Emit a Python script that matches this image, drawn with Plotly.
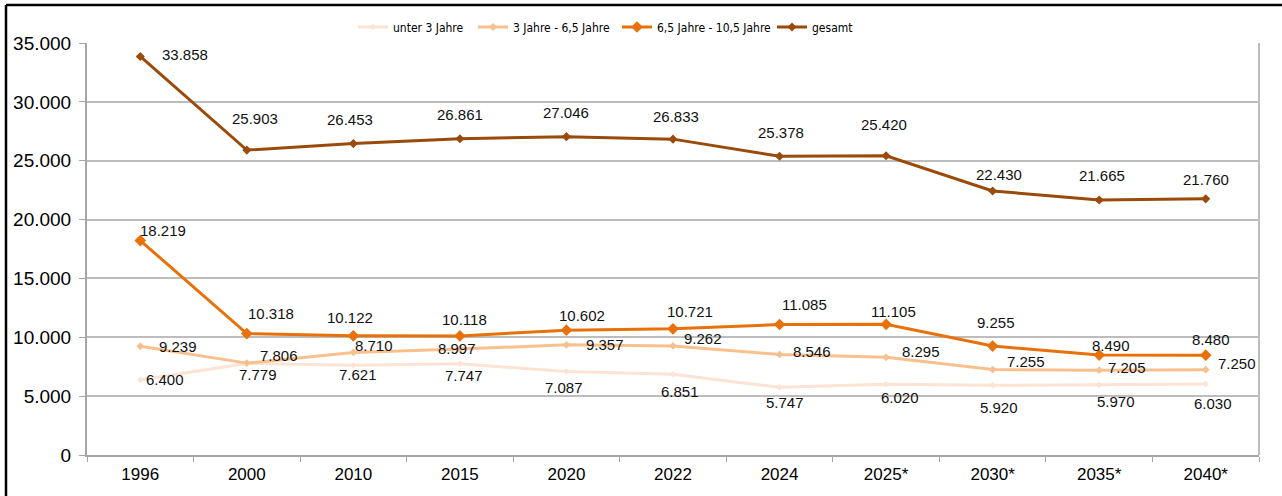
import plotly.graph_objects as go

# Kategorien (Jahre) und Werte je Altersgruppe
jahre = ['1996', '2000', '2010', '2015', '2020', '2022', '2024', '2025*', '2030*', '2035*', '2040*']
unter_3 = [6400, 7779, 7621, 7747, 7087, 6851, 5747, 6020, 5920, 5970, 6030]
j3_bis_65 = [9239, 7806, 8710, 8997, 9357, 9262, 8546, 8295, 7255, 7205, 7250]
j65_bis_105 = [18219, 10318, 10122, 10118, 10602, 10721, 11085, 11105, 9255, 8490, 8480]
gesamt = [33858, 25903, 26453, 26861, 27046, 26833, 25378, 25420, 22430, 21665, 21760]

# Label-Versatz in Pixel (dx, dy) je Punkt
off_unter_3 = [(25, 0), (11, -11), (5, -9), (4, -12), (-2, -16), (7, -17), (5, -15), (14, -13), (6, -22), (17, -17), (7, -19)]
off_j3 = [(38, 0), (32, 8), (21, 7), (-3, 1), (39, 0), (30, 7), (32, 3), (35, 6), (33, 8), (28, 3), (31, 6)]
off_j65 = [(23, 10), (24, 20), (-3, 18), (5, 16), (16, 15), (17, 17), (25, 20), (7, 13), (3, 24), (12, 10), (5, 16)]
off_ges = [(45, 2), (8, 32), (-3, 24), (0, 24), (0, 24), (3, 23), (1, 24), (-2, 31), (6, 16), (3, 24), (0, 19)]

serien = [
    ('unter 3 Jahre', unter_3, '#FDE3D3', 5, off_unter_3, 'legend', 360),
    ('3 Jahre - 6,5 Jahre', j3_bis_65, '#F9C08F', 6, off_j3, 'legend2', 480),
    ('6,5 Jahre - 10,5 Jahre', j65_bis_105, '#E8710A', 9, off_j65, 'legend3', 624),
    ('gesamt', gesamt, '#9A4A0A', 7, off_ges, 'legend4', 779),
]

def fmt(v):
    return f"{v:,}".replace(',', '.')

leg_font = dict(family='Liberation Sans Narrow, DejaVu Sans Condensed, Arial', size=12, color='#000000')
def leg(xpx):
    return dict(x=(xpx - 7 - 87) / 1172, y=(455 - 27) / 412, xanchor='left', yanchor='middle',
                orientation='h', font=leg_font, bgcolor='rgba(0,0,0,0)', itemwidth=30)

fig = go.Figure()
annotations = []
legends = {}
for name, werte, farbe, msize, offs, lname, lx in serien:
    fig.add_trace(go.Scatter(x=jahre, y=werte, name=name, mode='lines+markers',
                             line=dict(color=farbe, width=3),
                             marker=dict(symbol='diamond', size=msize, color=farbe),
                             legend=lname, showlegend=True))
    legends[lname] = leg(lx)
    for i, (w, (dx, dy)) in enumerate(zip(werte, offs)):
        annotations.append(dict(x=i, y=w, text=fmt(w), showarrow=False,
                                xshift=dx, yshift=dy,
                                font=dict(size=15, color='#111111')))

px = lambda v: (v - 87) / 1172
py = lambda v: (455 - v) / 412

fig.update_layout(
    width=1282, height=496,
    margin=dict(l=87, r=23, t=43, b=41),
    paper_bgcolor='white', plot_bgcolor='white',
    font=dict(family='Liberation Sans, Arial', color='#000000'),
    separators=',.',
    showlegend=True,
    annotations=annotations,
    **legends,
    xaxis=dict(type='category', tickson='boundaries', ticks='outside', ticklen=5,
               tickcolor='#a6a6a6', showline=True, linecolor='#a6a6a6', linewidth=2,
               showgrid=False, tickfont=dict(size=17), range=[-0.5, 10.5],
               ticklabelstandoff=3),
    yaxis=dict(range=[0, 35000], dtick=5000, tickformat=',d', ticks='outside', ticklen=6,
               tickcolor='#a6a6a6', showline=True, linecolor='#a6a6a6', linewidth=2,
               gridcolor='#bdbdbd', gridwidth=1.5, tickfont=dict(size=19), zeroline=False,
               ticklabelstandoff=4),
    shapes=[
        dict(type='line', xref='paper', yref='paper', x0=1, x1=1, y0=0, y1=1,
             line=dict(color='#bdbdbd', width=2)),
        # schwarzer Rahmen links und oben
        dict(type='line', xref='paper', yref='paper', x0=px(6), x1=px(6), y0=py(5), y1=py(500),
             line=dict(color='black', width=2.5)),
        dict(type='line', xref='paper', yref='paper', x0=px(6), x1=px(1282), y0=py(5), y1=py(5),
             line=dict(color='black', width=2.5)),
    ],
)

# Seitenrand und Scrollbalken des Browsers entfernen, damit die Grafik bei (0,0) beginnt
fig.write_html("out.html", config={'displayModeBar': False},
               post_script="document.body.style.margin='0';"
                           "document.body.style.overflow='hidden';"
                           "document.documentElement.style.overflow='hidden';")
